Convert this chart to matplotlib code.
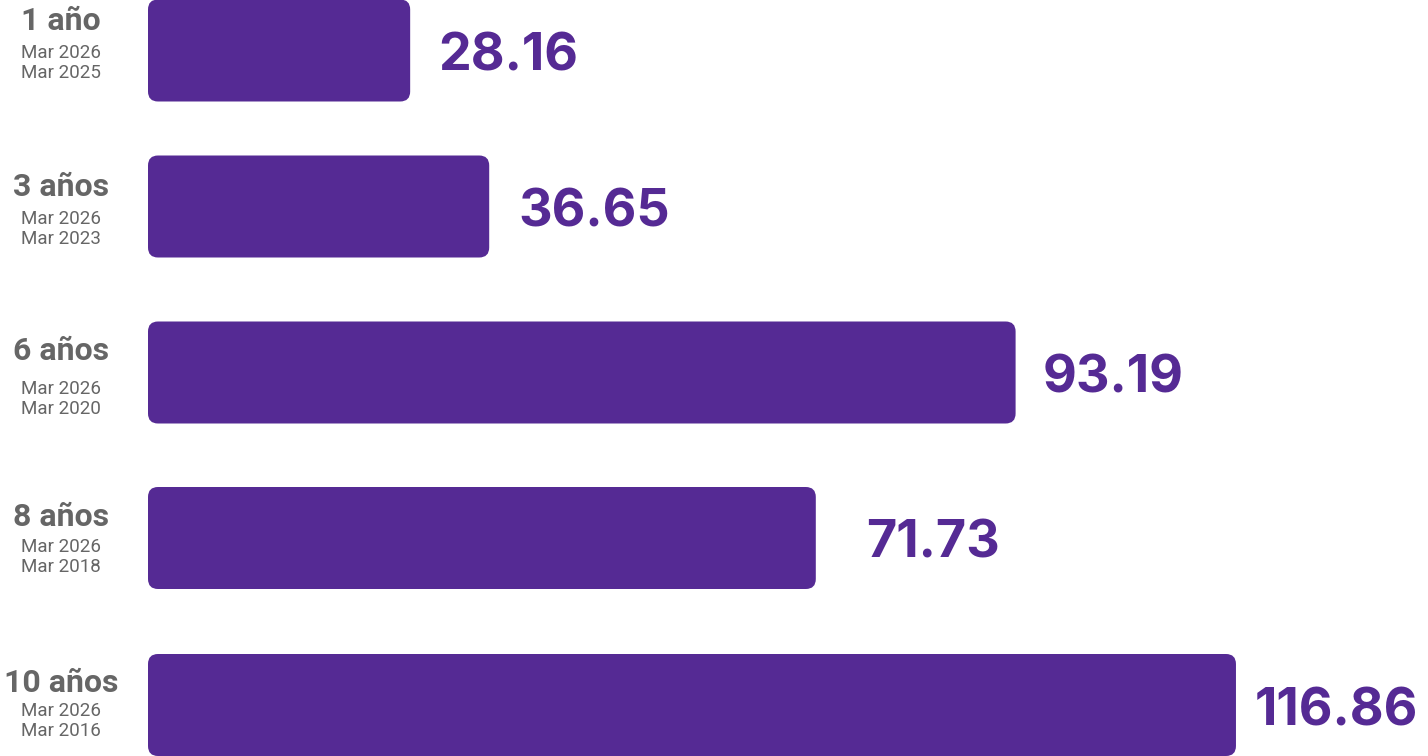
"""
Horizontal bar chart of accumulated returns by period (1 to 10 años).
"""

import matplotlib
matplotlib.use('Agg')
import matplotlib.pyplot as plt
from matplotlib.patches import FancyBboxPatch

# ── Data ──────────────────────────────────────────────────────────
periods = ['1 año', '3 años', '6 años', '8 años', '10 años']
date_end = ['Mar 2026', 'Mar 2026', 'Mar 2026', 'Mar 2026', 'Mar 2026']
date_start = ['Mar 2025', 'Mar 2023', 'Mar 2020', 'Mar 2018', 'Mar 2016']
values = [28.16, 36.65, 93.19, 71.73, 116.86]

# ── Layout (pixels) ───────────────────────────────────────────────
W, H, DPI = 1428, 756, 100
X0 = 148            # where value 0 sits
PX_PER_UNIT = 9.31  # bar length scale
bar_centers = [50.5, 206.5, 372.5, 538, 705]
bar_half = 51
head_off = [-29, -20, -21, -21, -22]
date_off = [3, 12, 16, 9, 6]
value_gap = [28, 29, 27, 50, 19]

PURPLE = '#552a94'
GRAY = '#666666'

fig = plt.figure(figsize=(W / DPI, H / DPI), dpi=DPI)
ax = fig.add_axes([0, 0, 1, 1])
ax.set_xlim(-X0 / PX_PER_UNIT, (W - X0) / PX_PER_UNIT)
ax.set_ylim(H, 0)
ax.axis('off')

radius = 10 / PX_PER_UNIT
xl = (61 - X0) / PX_PER_UNIT
for i, v in enumerate(values):
    yc = bar_centers[i]
    patch = FancyBboxPatch((0, yc - bar_half), v, 2 * bar_half,
                           boxstyle=f'round,pad=0,rounding_size={radius}',
                           mutation_aspect=PX_PER_UNIT,
                           fc=PURPLE, ec='none')
    ax.add_patch(patch)

    # value label to the right of the bar
    ax.text(v + value_gap[i] / PX_PER_UNIT, yc + 1, f'{v:.2f}', color=PURPLE,
            fontsize=37.5, fontweight='bold', family='Inter',
            ha='left', va='center_baseline')

    # period + dates on the left
    ax.text(xl, yc + head_off[i], periods[i], color=GRAY, fontsize=23,
            fontweight='bold', family='Roboto', ha='center', va='center')
    ax.text(xl, yc + date_off[i], date_end[i], color=GRAY, fontsize=13.5,
            family='Roboto', ha='center', va='center')
    ax.text(xl, yc + date_off[i] + 20, date_start[i], color=GRAY, fontsize=13.5,
            family='Roboto', ha='center', va='center')

fig.savefig('out.png', dpi=DPI)
plt.close('all')
